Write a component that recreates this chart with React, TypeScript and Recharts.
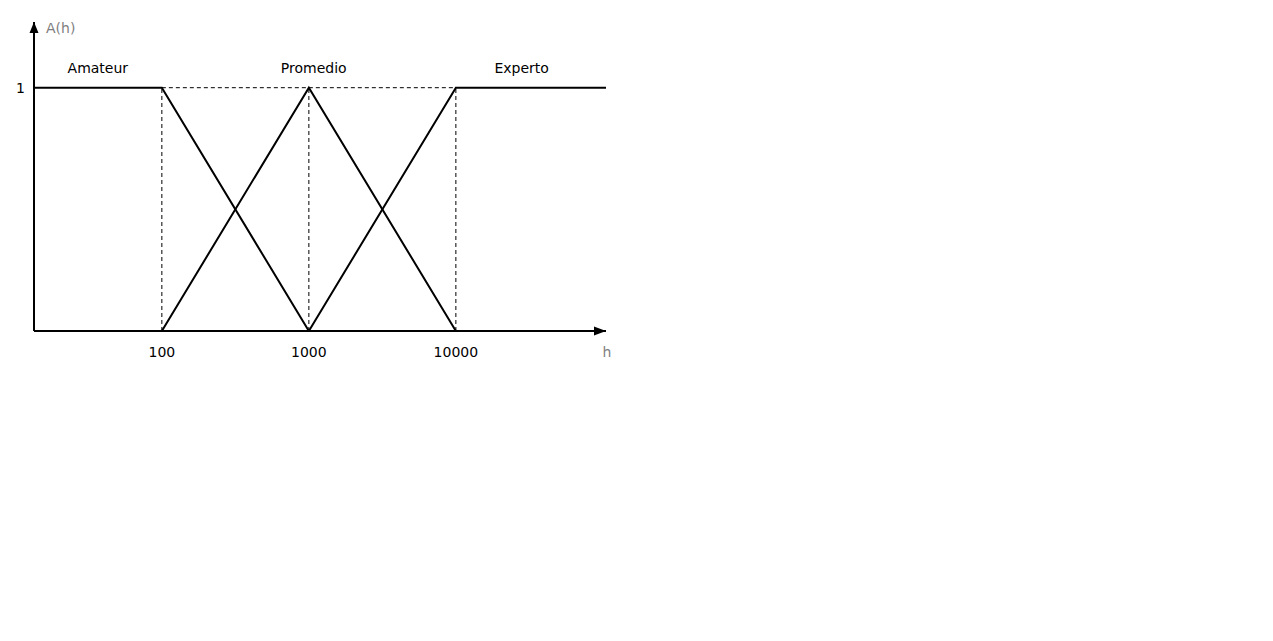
import React from "react";
import { LineChart, Line, XAxis, YAxis, ReferenceLine, ReferenceDot, Label } from "recharts";

// axis range of h (log scale) and membership A(h)
const H_MIN = 13.5;
const H_MAX = 105000;
const A_MAX = 1.27;

const xTicks = [100, 1000, 10000];
const yTicks = [1];

const amateur = [
  { h: H_MIN, a: 1 },
  { h: 100, a: 1 },
  { h: 1000, a: 0 },
];
const promedio = [
  { h: 100, a: 0 },
  { h: 1000, a: 1 },
  { h: 10000, a: 0 },
];
const experto = [
  { h: 1000, a: 0 },
  { h: 10000, a: 1 },
  { h: H_MAX, a: 1 },
];

const setNames = ["Amateur", "Promedio", "Experto"];
const setLabelH = [36.7, 1080, 28000];
const setLabelA = 1.082;

const guideH = [100, 1000, 10000];

const FONT = "DejaVu Sans";

const RightArrow = (props: any) => {
  const { cx, cy } = props;
  return <polygon points={`${cx},${cy} ${cx - 12},${cy - 4.5} ${cx - 12},${cy + 4.5}`} fill="#000" />;
};
const UpArrow = (props: any) => {
  const { cx, cy } = props;
  return <polygon points={`${cx},${cy} ${cx - 4.5},${cy + 11} ${cx + 4.5},${cy + 11}`} fill="#000" />;
};
const makeText = (txt: string) => (props: any) => {
  const { cx, cy } = props;
  return (
    <text x={cx} y={cy} dy="0.355em" textAnchor="middle" fontFamily={FONT} fontSize={14} fill="#000">
      {txt}
    </text>
  );
};

export default function App() {
  return (
    <LineChart width={620} height={370} margin={{ top: 14, right: 22, bottom: 17, left: 0 }}>
      <XAxis
        dataKey="h"
        type="number"
        scale="log"
        domain={[H_MIN, H_MAX]}
        allowDataOverflow
        ticks={xTicks}
        tickLine={false}
        tickSize={0}
        tickMargin={16}
        height={30}
        axisLine={{ stroke: "#000", strokeWidth: 2 }}
        tick={{ fill: "#000", fontFamily: FONT, fontSize: 14 }}
      >
        <Label
          content={(p: any) => {
            const vb = p.viewBox;
            return (
              <text x={vb.x + vb.width + 1} y={vb.y + 26} textAnchor="middle" fontFamily={FONT} fontSize={14} fill="#7f7f7f">
                h
              </text>
            );
          }}
        />
      </XAxis>
      <YAxis
        type="number"
        domain={[0, A_MAX]}
        allowDataOverflow
        ticks={yTicks}
        width={26}
        tickLine={false}
        tickSize={0}
        tickMargin={9}
        axisLine={{ stroke: "#000", strokeWidth: 2 }}
        tick={{ fill: "#000", fontFamily: FONT, fontSize: 14 }}
      >
        <Label
          content={(p: any) => {
            const vb = p.viewBox;
            return (
              <text x={vb.x + vb.width + 12} y={vb.y + 11} textAnchor="start" fontFamily={FONT} fontSize={14} fill="#7f7f7f">
                A(h)
              </text>
            );
          }}
        />
      </YAxis>

      {guideH.map((h) => (
        <ReferenceLine
          key={"v" + h}
          segment={[{ x: h, y: 0 }, { x: h, y: 1 }]}
          stroke="#000"
          strokeWidth={1}
          strokeDasharray="4 3"
        />
      ))}
      <ReferenceLine
        segment={[{ x: guideH[0], y: 1 }, { x: guideH[2], y: 1 }]}
        stroke="#000"
        strokeWidth={1}
        strokeDasharray="4 3"
      />

      <Line data={amateur} dataKey="a" stroke="#000" strokeWidth={2} dot={false} isAnimationActive={false} />
      <Line data={promedio} dataKey="a" stroke="#000" strokeWidth={2} dot={false} isAnimationActive={false} />
      <Line data={experto} dataKey="a" stroke="#000" strokeWidth={2} dot={false} isAnimationActive={false} />

      {setNames.map((n, i) => (
        <ReferenceDot key={n} x={setLabelH[i]} y={setLabelA} r={0} shape={makeText(n)} ifOverflow="visible" />
      ))}

      <ReferenceDot x={H_MAX} y={0} shape={RightArrow} ifOverflow="visible" />
      <ReferenceDot x={H_MIN} y={A_MAX} shape={UpArrow} ifOverflow="visible" />
    </LineChart>
  );
}
